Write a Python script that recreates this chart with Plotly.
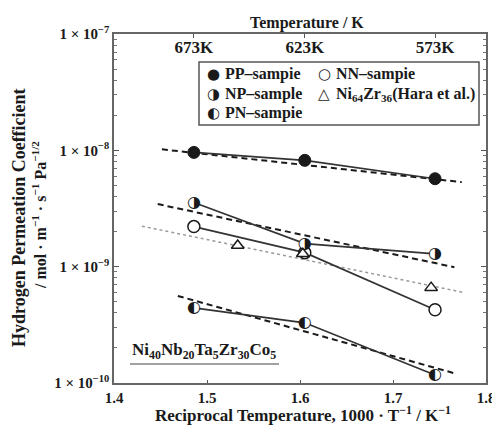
import plotly.graph_objects as go

# ---------------- data ----------------
temps_K = [673, 623, 573]
x_inv = [1000 / t for t in temps_K]          # 1000/T

pp_y = [9.6e-9, 8.2e-9, 5.7e-9]
np_y = [3.56e-9, 1.58e-9, 1.29e-9]
nn_y = [2.21e-9, 1.32e-9, 4.26e-10]
pn_y = [4.43e-10, 3.29e-10, 1.17e-10]

hara_x = [1.533, 1.603, 1.741]
hara_y = [1.52e-9, 1.29e-9, 6.6e-10]

# fitted (dashed / dotted) lines: end points
pp_fit_x = [1.4515, 1.774]
pp_fit_y = [1.02e-8, 5.33e-9]
np_fit_x = [1.447, 1.766]
np_fit_y = [3.45e-9, 9.9e-10]
pn_fit_x = [1.4686, 1.768]
pn_fit_y = [5.6e-10, 1.2e-10]
hara_fit_x = [1.430, 1.776]
hara_fit_y = [2.23e-9, 6.0e-10]

x_ticks = [1.4, 1.5, 1.6, 1.7, 1.8]
x_ticktext = ["<b>1.4</b>", "<b>1.5</b>", "<b>1.6</b>", "<b>1.7</b>", "<b>1.8</b>"]
y_ticks = [1e-10, 1e-9, 1e-8, 1e-7]
y_ticktext = ["<b>1 × 10<sup>−10</sup></b>", "<b>1 × 10<sup>−9</sup></b>",
              "<b>1 × 10<sup>−8</sup></b>", "<b>1 × 10<sup>−7</sup></b>"]
top_ticktext = ["<b>673K</b>", "<b>623K</b>", "<b>573K</b>"]

FONT = "Liberation Serif"
INK = "#1a1a1a"

fig = go.Figure()

def fit_line(x, y, dash, color, width):
    fig.add_trace(go.Scatter(x=x, y=y, mode="lines", showlegend=False,
                             line=dict(color=color, width=width, dash=dash)))

fit_line(pp_fit_x, pp_fit_y, "6px,4px", INK, 2)
fit_line(np_fit_x, np_fit_y, "6px,4px", INK, 2)
fit_line(pn_fit_x, pn_fit_y, "6px,4px", INK, 2)
fit_line(hara_fit_x, hara_fit_y, "3px,3px", "#9a9a9a", 1.5)

# connecting solid lines
for ys in (pp_y, np_y, nn_y, pn_y):
    fig.add_trace(go.Scatter(x=x_inv, y=ys, mode="lines", showlegend=False,
                             line=dict(color="#333", width=1.7)))

# markers
fig.add_trace(go.Scatter(x=x_inv, y=pp_y, mode="markers", showlegend=False,
                         marker=dict(symbol="circle", size=12, color=INK,
                                     line=dict(color=INK, width=1))))
fig.add_trace(go.Scatter(x=x_inv, y=nn_y, mode="markers", showlegend=False,
                         marker=dict(symbol="circle", size=12, color="white",
                                     line=dict(color=INK, width=1.5))))
for ys, glyph in ((np_y, "◑"), (pn_y, "◐")):
    fig.add_trace(go.Scatter(x=x_inv, y=ys, mode="markers", showlegend=False,
                             marker=dict(symbol="circle", size=11, color="white",
                                         line=dict(width=0))))
    fig.add_trace(go.Scatter(x=x_inv, y=ys, mode="text", showlegend=False,
                             text=[glyph] * len(ys), textposition="middle center",
                             textfont=dict(family="DejaVu Sans", size=16, color=INK)))
fig.add_trace(go.Scatter(x=hara_x, y=hara_y, mode="markers", showlegend=False,
                         marker=dict(symbol="triangle-up", size=11, color="white",
                                     line=dict(color=INK, width=1.5))))

# top axis carrier (invisible trace)
fig.add_trace(go.Scatter(x=x_inv, y=pp_y, xaxis="x2", mode="markers",
                         marker=dict(opacity=0), showlegend=False, hoverinfo="skip"))

# page body has an 8px margin: the figure is offset by 8px and sized to fit the window
fig.update_layout(
    width=492, height=417,
    margin=dict(l=106, r=14, t=26, b=42, autoexpand=False),
    paper_bgcolor="white", plot_bgcolor="white",
    showlegend=False,
    font=dict(family=FONT, color=INK),
    xaxis=dict(range=[1.4, 1.8], tickvals=x_ticks, ticktext=x_ticktext,
               ticks="inside", ticklen=3, tickcolor="#555", ticklabeloverflow="allow",
               showline=True, linecolor="#666", linewidth=1.5, mirror=True,
               showgrid=False, zeroline=False, automargin=False,
               tickfont=dict(family=FONT, size=15, color=INK)),
    xaxis2=dict(range=[1.4, 1.8], overlaying="x", side="top",
                tickvals=x_inv, ticktext=top_ticktext,
                ticks="inside", ticklen=4, tickcolor="#555",
                ticklabelposition="inside", ticklabelstandoff=4, ticklabeloverflow="allow",
                showline=True, linecolor="#666", linewidth=1.5,
                showgrid=False, zeroline=False, automargin=False,
                tickfont=dict(family=FONT, size=17, color=INK)),
    yaxis=dict(type="log", range=[-10.0001, -6.9999], tickvals=y_ticks, ticktext=y_ticktext,
               ticks="inside", ticklen=5, tickcolor="#555", ticklabeloverflow="allow",
               showline=True, linecolor="#666", linewidth=1.5, mirror="ticks",
               showgrid=False, zeroline=False, automargin=False,
               tickfont=dict(family=FONT, size=15, color=INK),
               minor=dict(ticks="inside", ticklen=3, tickcolor="#777",
                          tickvals=[m * 10 ** e for e in (-10, -9, -8) for m in range(2, 10)],
                          showgrid=False)),
)

# helpers: reference pixel -> paper coordinates (plot area 114..486 x 34..383 on the page)
def px(xp):
    return (xp - 114) / 372
def py(yp):
    return (383 - yp) / 349

ann = []
def text(t, x, y, size, xanchor="center", angle=0, family=FONT):
    ann.append(dict(text=t, x=px(x), y=py(y), xref="paper", yref="paper",
                    xanchor=xanchor, yanchor="middle", textangle=angle,
                    showarrow=False, font=dict(size=size, family=family, color=INK)))

# axis titles
text("<b>Temperature / K</b>", 307, 23, 16)
text("<b>Reciprocal Temperature, 1000 · T<sup>−1</sup> / K<sup>−1</sup></b>", 303, 414, 17)
text("<b>Hydrogen Permeation Coefficient</b>", 19, 218, 18, angle=-90)
text("<b>/ mol · m<sup>−1</sup> · s<sup>−1</sup> Pa<sup>−1/2</sup></b>", 39, 215, 16, angle=-90)
# composition label
text("<b>Ni<sub>40</sub>Nb<sub>20</sub>Ta<sub>5</sub>Zr<sub>30</sub>Co<sub>5</sub></b>",
     130, 351, 17, xanchor="left")

# legend (manual)
legend_items = [
    ("●", "PP–sampie", 213, 74),
    ("◑", "NP–sample", 213, 94),
    ("◐", "PN–sampie", 213, 113),
    ("○", "NN–sampie", 324, 74),
    ("△", "Ni<sub>64</sub>Zr<sub>36</sub>(Hara et al.)", 324, 94),
]
for glyph, label, gx, gy in legend_items:
    text(glyph, gx, gy, 15, family="DejaVu Sans")
    text("<b>" + label + "</b>", gx + 10, gy, 16, xanchor="left")
fig.update_layout(annotations=ann)

fig.add_shape(type="rect", xref="paper", yref="paper",
              x0=px(199), x1=px(479), y0=py(125), y1=py(62),
              line=dict(color="#555", width=1.5), fillcolor="rgba(0,0,0,0)")
fig.add_shape(type="line", xref="paper", yref="paper",
              x0=px(130), x1=px(279), y0=py(364), y1=py(364),
              line=dict(color="#444", width=1.2))

# hide page scrollbars so nothing at the right edge is clipped
fig.write_html("out.html", post_script="document.documentElement.style.overflow='hidden';"
                                      "document.body.style.overflow='hidden';")
